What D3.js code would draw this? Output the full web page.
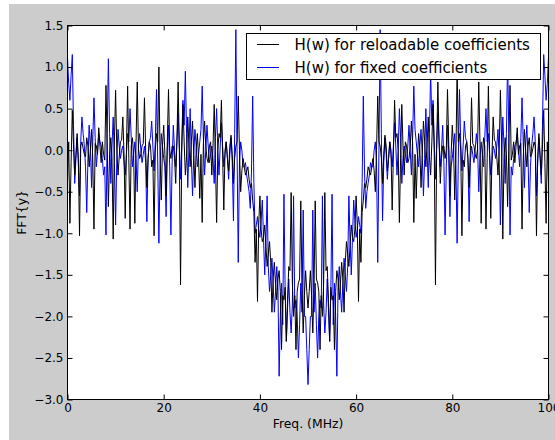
<!DOCTYPE html>
<html><head><meta charset="utf-8">
<script src="https://cdn.jsdelivr.net/npm/d3@7"></script>
<style>html,body{margin:0;padding:0;background:#fff}svg{display:block}</style>
</head><body><svg id="c" width="555" height="440"></svg>
<script>
// ---- data ----
const freqStart = 0, freqStep = 0.25;
const xTicks = [0, 20, 40, 60, 80, 100];
const xTickLabels = ["0", "20", "40", "60", "80", "100"];
const yTicks = [1.5, 1.0, 0.5, 0.0, -0.5, -1.0, -1.5, -2.0, -2.5, -3.0];
const yTickLabels = ["1.5", "1.0", "0.5", "0.0", "\u22120.5", "\u22121.0", "\u22121.5", "\u22122.0", "\u22122.5", "\u22123.0"];
const seriesNames = ["H(w) for reloadable coefficients", "H(w) for fixed coefficients"];
const seriesColors = ["#000000", "#0000ff"];
const xLabel = "Freq. (MHz)";
const yLabel = "FFT{y}";

const reloadable = [
 -0.40,0.10,-0.88,-0.15,0.48,0.05,-0.30,-0.05,0.20,-0.10,
 -1.03,0.05,0.10,0.02,-0.05,-0.08,0.15,0.05,-0.20,0.00,
 0.25,-0.10,-0.95,0.08,0.05,-0.05,0.27,0.05,-0.15,0.10,
 -0.05,-0.12,0.78,0.05,-0.68,-0.05,0.15,-0.10,-1.07,0.10,
 0.72,0.00,-0.30,-0.08,0.10,0.12,0.40,-0.05,-0.82,0.00,
 0.77,-0.10,-0.95,0.05,0.15,-0.05,-0.88,0.10,0.82,0.02,
 -0.10,-0.05,0.05,0.08,0.63,0.00,-0.45,-0.10,0.10,0.05,
 -0.20,-0.12,-1.03,0.00,0.20,0.10,1.00,-0.08,-0.60,0.05,
 0.30,-0.05,-0.55,0.10,0.73,0.00,-0.10,0.05,0.05,-0.10,
 -0.40,0.12,0.82,0.00,-1.62,-0.05,0.55,0.10,-0.30,-0.08,
 0.40,0.05,-0.20,0.10,0.35,-0.05,-0.45,0.00,0.20,-0.10,
 -0.58,-0.05,-0.87,0.08,0.35,0.05,-0.10,-0.15,0.05,0.10,
 -0.30,0.05,0.55,-0.10,-0.87,0.00,0.20,0.15,0.60,-0.05,
 -0.72,0.00,0.10,-0.10,-0.25,0.05,0.18,-0.05,-0.40,-0.10,
 0.05,0.10,0.65,0.00,-0.50,-0.25,-0.10,-0.20,-0.30,-0.25,
 -0.20,-0.35,-0.45,-0.40,-0.60,-0.75,-1.35,-0.95,-1.82,-0.90,
 -0.55,-0.95,-1.10,-1.05,-0.90,-1.15,-1.40,-1.25,-1.10,-1.35,
 -1.95,-1.55,-1.35,-1.60,-1.80,-1.55,-1.45,-1.70,-2.40,-1.75,
 -1.80,-1.65,-2.30,-1.80,-1.40,-1.45,-0.51,-1.60,-2.00,-1.75,
 -2.40,-1.70,-1.60,-1.55,-0.61,-1.65,-2.20,-1.75,-1.45,-1.70,
 -1.90,
 -1.70,-1.45,-1.75,-2.20,-1.65,-0.61,-1.55,-1.60,-1.70,-2.40,
 -1.75,-2.00,-1.60,-0.51,-1.45,-1.40,-1.80,-2.30,-1.65,-1.80,
 -1.75,-2.40,-1.70,-1.45,-1.55,-1.80,-1.60,-1.35,-1.55,-1.95,
 -1.35,-1.10,-1.25,-1.40,-1.15,-0.90,-1.05,-1.10,-0.95,-0.55,
 -0.90,-1.82,-0.95,-1.35,-0.75,-0.60,-0.40,-0.45,-0.35,-0.20,
 -0.25,-0.30,-0.20,-0.10,-0.25,-0.50,0.00,0.65,0.10,0.05,
 -0.10,-0.40,-0.05,0.18,0.05,-0.25,-0.10,0.10,0.00,-0.72,
 -0.05,0.60,0.15,0.20,0.00,-0.87,-0.10,0.55,0.05,-0.30,
 0.10,0.05,-0.15,-0.10,0.05,0.35,0.08,-0.87,-0.05,-0.58,
 -0.10,0.20,0.00,-0.45,-0.05,0.35,0.10,-0.20,0.05,0.40,
 -0.08,-0.30,0.10,0.55,-0.05,-1.62,0.00,0.82,0.12,-0.40,
 -0.10,0.05,0.05,-0.10,0.00,0.73,0.10,-0.55,-0.05,0.30,
 0.05,-0.60,-0.08,1.00,0.10,0.20,0.00,-1.03,-0.12,-0.20,
 0.05,0.10,-0.10,-0.45,0.00,0.63,0.08,0.05,-0.05,-0.10,
 0.02,0.82,0.10,-0.88,-0.05,0.15,0.05,-0.95,-0.10,0.77,
 0.00,-0.82,-0.05,0.40,0.12,0.10,-0.08,-0.30,0.00,0.72,
 0.10,-1.07,-0.10,0.15,-0.05,-0.68,0.05,0.78,-0.12,-0.05,
 0.10,-0.15,0.05,0.27,-0.05,0.05,0.08,-0.95,-0.10,0.25,
 0.00,-0.20,0.05,0.15,-0.08,-0.05,0.02,0.10,0.05,-1.03,
 -0.10,0.20,-0.05,-0.30,0.05,0.48,-0.15,-0.88,0.10,-0.40
];

const fixed = [
 1.12,0.80,0.60,0.90,1.15,0.30,-0.40,-0.10,0.15,-0.15,
 -0.55,0.10,0.40,0.20,0.05,-0.20,-0.75,-0.10,0.30,0.05,
 -0.45,0.10,0.63,0.15,-0.20,0.00,0.20,0.10,0.05,-0.10,
 -0.30,-0.20,-1.02,0.20,1.10,0.20,-0.40,0.05,0.40,-0.15,
 -0.90,-0.10,0.25,0.05,-0.10,0.00,0.05,-0.15,-0.30,-0.05,
 0.20,0.10,0.50,0.15,-0.20,-0.05,0.10,-0.10,-0.50,0.05,
 0.20,0.00,-0.15,-0.05,0.05,-0.15,-0.86,-0.10,0.10,0.15,
 0.35,0.05,-0.25,0.10,0.73,-0.10,-1.12,-0.20,0.20,0.05,
 -0.10,-0.20,-0.80,0.00,0.30,-0.20,-1.02,-0.15,0.30,0.00,
 -0.20,0.10,0.45,0.05,-0.35,0.10,0.60,0.30,0.95,0.20,
 -0.45,0.00,0.50,-0.10,-0.55,-0.05,0.25,0.05,-0.20,-0.05,
 0.10,0.25,0.77,0.15,-0.30,0.00,0.30,0.05,-0.15,-0.05,
 0.05,-0.10,-0.40,0.15,0.50,0.00,-0.30,0.05,0.33,0.05,
 -0.20,-0.05,0.10,-0.10,-0.35,-0.05,0.15,-0.15,-0.85,0.20,
 1.45,0.00,-1.35,-0.15,0.10,0.00,-0.20,-0.20,-0.15,-0.30,
 -0.40,-0.50,-0.70,-0.25,0.65,-0.40,-1.00,-0.90,-0.80,-0.95,
 -1.05,-0.85,-0.60,-1.05,-1.50,-1.10,-0.55,-1.40,-1.70,-1.50,
 -1.30,-1.60,-1.95,-1.70,-1.40,-1.65,-2.72,-2.00,-1.60,-2.10,
 -0.53,-1.70,-2.30,-1.90,-1.55,-1.95,-2.20,-1.85,-0.55,-1.90,
 -1.80,-2.00,-2.50,-2.10,-1.60,-1.95,-0.72,-2.00,-2.00,-2.40,
 -2.82,
 -2.40,-2.00,-2.00,-0.72,-1.95,-1.60,-2.10,-2.50,-2.00,-1.80,
 -1.90,-0.55,-1.85,-2.20,-1.95,-1.55,-1.90,-2.30,-1.70,-0.53,
 -2.10,-1.60,-2.00,-2.72,-1.65,-1.40,-1.70,-1.95,-1.60,-1.30,
 -1.50,-1.70,-1.40,-0.55,-1.10,-1.50,-1.05,-0.60,-0.85,-1.05,
 -0.95,-0.80,-0.90,-1.00,-0.40,0.65,-0.25,-0.70,-0.50,-0.40,
 -0.30,-0.15,-0.20,-0.20,0.00,0.10,-0.15,-1.35,0.00,1.45,
 0.20,-0.85,-0.15,0.15,-0.05,-0.35,-0.10,0.10,-0.05,-0.20,
 0.05,0.33,0.05,-0.30,0.00,0.50,0.15,-0.40,-0.10,0.05,
 -0.05,-0.15,0.05,0.30,0.00,-0.30,0.15,0.77,0.25,0.10,
 -0.05,-0.20,0.05,0.25,-0.05,-0.55,-0.10,0.50,0.00,-0.45,
 0.20,0.95,0.30,0.60,0.10,-0.35,0.05,0.45,0.10,-0.20,
 0.00,0.30,-0.15,-1.02,-0.20,0.30,0.00,-0.80,-0.20,-0.10,
 0.05,0.20,-0.20,-1.12,-0.10,0.73,0.10,-0.25,0.05,0.35,
 0.15,0.10,-0.10,-0.86,-0.15,0.05,-0.05,-0.15,0.00,0.20,
 0.05,-0.50,-0.10,0.10,-0.05,-0.20,0.15,0.50,0.10,0.20,
 -0.05,-0.30,-0.15,0.05,0.00,-0.10,0.05,0.25,-0.10,-0.90,
 -0.15,0.40,0.05,-0.40,0.20,1.10,0.20,-1.02,-0.20,-0.30,
 -0.10,0.05,0.10,0.20,0.00,-0.20,0.15,0.63,0.10,-0.45,
 0.05,0.30,-0.10,-0.75,-0.20,0.05,0.20,0.40,0.10,-0.55,
 -0.15,0.15,-0.10,-0.40,0.30,1.15,0.90,0.60,0.80,1.12
];

// ---- drawing ----
const W = 555, H = 440;
const L = 67.5, R = 548.5, T = 25.5, B = 399.5;
const FONT = '"DejaVu Sans", "Bitstream Vera Sans", sans-serif';
const svg = d3.select("#c");

svg.append("rect").attr("x", 0).attr("y", 0).attr("width", W).attr("height", H).attr("fill", "#ffffff");
svg.append("rect").attr("x", 9).attr("y", 4).attr("width", W - 9).attr("height", H - 4).attr("fill", "#cccccc");
svg.append("rect").attr("x", L).attr("y", T).attr("width", R - L).attr("height", B - T).attr("fill", "#ffffff");

const x = d3.scaleLinear().domain([0, 100]).range([L, R]);
const y = d3.scaleLinear().domain([-3, 1.5]).range([B, T]);

svg.append("clipPath").attr("id", "clip").append("rect")
  .attr("x", L).attr("y", T).attr("width", R - L).attr("height", B - T);

const line = d3.line().x((d, i) => x(freqStart + i * freqStep)).y(d => y(d));
const plotG = svg.append("g").attr("clip-path", "url(#clip)");
// fixed (blue) first, reloadable (black) on top
[[fixed, seriesColors[1]], [reloadable, seriesColors[0]]].forEach(([vals, col]) => {
  plotG.append("path").datum(vals).attr("d", line)
    .attr("fill", "none").attr("stroke", col).attr("stroke-width", 1)
    .attr("stroke-linejoin", "miter");
});

// axes
function styleAxis(g) {
  g.select(".domain").remove();
  g.selectAll(".tick line").attr("stroke", "#000").attr("stroke-width", 1);
  g.selectAll(".tick text").attr("fill", "#000").style("font-family", FONT).style("font-size", "12px");
}
const xAxisB = d3.axisBottom(x).tickValues(xTicks).tickFormat((d, i) => xTickLabels[i])
  .tickSizeInner(-5).tickSizeOuter(0).tickPadding(3.5);
svg.append("g").attr("transform", `translate(0,${B})`).call(xAxisB).call(styleAxis);
const xAxisT = d3.axisTop(x).tickValues(xTicks).tickFormat("").tickSizeInner(-5).tickSizeOuter(0);
svg.append("g").attr("transform", `translate(0,${T})`).call(xAxisT).call(styleAxis);
const yAxisL = d3.axisLeft(y).tickValues(yTicks).tickFormat((d, i) => yTickLabels[i])
  .tickSizeInner(-5).tickSizeOuter(0).tickPadding(4);
svg.append("g").attr("transform", `translate(${L},0)`).call(yAxisL).call(styleAxis);
const yAxisR = d3.axisRight(y).tickValues(yTicks).tickFormat("").tickSizeInner(-5).tickSizeOuter(0);
svg.append("g").attr("transform", `translate(${R},0)`).call(yAxisR).call(styleAxis);

// frame
svg.append("rect").attr("x", L).attr("y", T).attr("width", R - L).attr("height", B - T)
  .attr("fill", "none").attr("stroke", "#000").attr("stroke-width", 1);

// axis labels
svg.append("text").attr("x", (L + R) / 2).attr("y", 428).attr("text-anchor", "middle")
  .style("font-family", FONT).style("font-size", "12.4px").attr("fill", "#000").text(xLabel);
svg.append("text").attr("transform", `translate(25.5,${(T + B) / 2}) rotate(-90)`).attr("text-anchor", "middle")
  .style("font-family", FONT).style("font-size", "12.4px").attr("fill", "#000").text(yLabel);

// legend
const lg = svg.append("g");
lg.append("rect").attr("x", 246.5).attr("y", 33.5).attr("width", 294).attr("height", 46)
  .attr("fill", "#ffffff").attr("stroke", "#000").attr("stroke-width", 1);
const rowsY = [44.5, 67.5];
seriesNames.forEach((name, i) => {
  lg.append("line").attr("x1", 257).attr("x2", 279).attr("y1", rowsY[i]).attr("y2", rowsY[i])
    .attr("stroke", seriesColors[i]).attr("stroke-width", 1);
  lg.append("text").attr("x", 294.5).attr("y", rowsY[i] + 5.5)
    .style("font-family", FONT).style("font-size", "15px").attr("fill", "#000").text(name);
});
</script></body></html>
